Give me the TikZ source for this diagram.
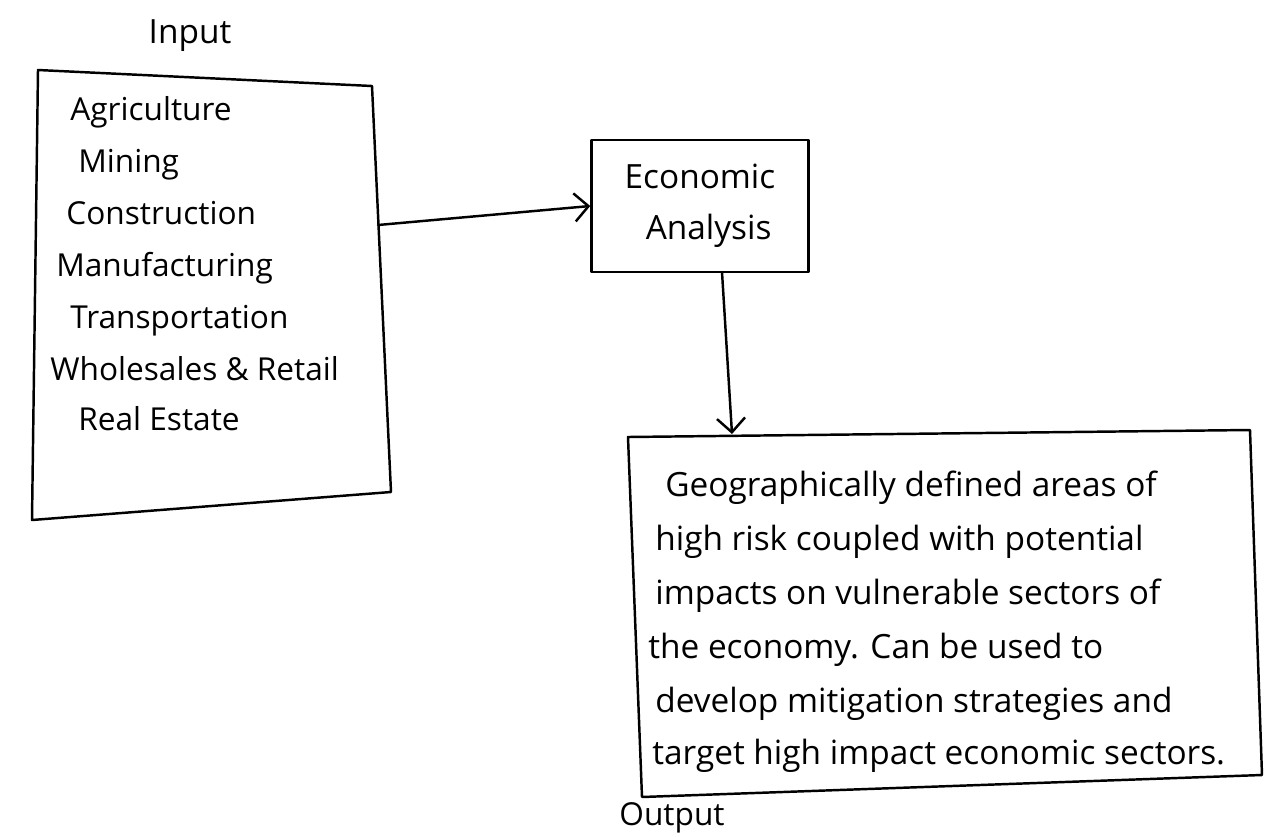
\documentclass[tikz,border=0pt]{standalone}
\usepackage{fontspec}
\setmainfont{Open Sans}
\usetikzlibrary{arrows.meta}
\begin{document}
\begin{tikzpicture}[x=0.02cm,y=-0.02cm,
  pen/.style={line width=1.4pt,line join=round,line cap=round},
  flow/.style={pen,-{Straight Barb[length=8pt,width=16pt,line width=1.4pt]}},
  hand/.style={font=\fontsize{19}{23}\selectfont,inner sep=0pt},
  listitem/.style={hand,anchor=base west},
  sector/.style={listitem,font=\fontsize{18}{22}\selectfont}]
\useasboundingbox (0,0) rectangle (1269,836);

% caption over the input box
\node[hand] (inlabel) at (190,36) {Input};

% input box (sectors)
\coordinate (i1) at (38,70);
\coordinate (i2) at (372,86);
\coordinate (i3) at (391,492);
\coordinate (i4) at (32,520);
\draw[pen] (i1) -- (i2) -- (i3) -- (i4) -- cycle;
\node[sector] (s1) at (70,120) {Agriculture};
\node[sector] (s2) at (78,172) {Mining};
\node[sector] (s3) at (66,224) {Construction};
\node[sector] (s4) at (56,276) {Manufacturing};
\node[sector] (s5) at (70,328) {Transportation};
\node[sector] (s6) at (50,380) {Wholesales \& Retail};
\node[sector] (s7) at (78,430) {Real Estate};

% analysis box
\node[pen,draw,minimum width=217*0.02cm,minimum height=132*0.02cm,
      hand,align=left] (econ) at (700,206)
  {Economic\\[6pt]\hspace*{12pt}Analysis};

% output box
\coordinate (o1) at (628,437);
\coordinate (o2) at (1250,430);
\coordinate (o3) at (1262,775);
\coordinate (o4) at (642,797);
\draw[pen] (o1) -- (o2) -- (o3) -- (o4) -- cycle;
\node[listitem] (t1) at (665,496) {Geographically defined areas of};
\node[listitem] (t2) at (655,550) {high risk coupled with potential};
\node[listitem] (t3) at (655,604) {impacts on vulnerable sectors of};
\node[listitem] (t4) at (648,658) {the economy. Can be used to};
\node[listitem] (t5) at (655,712) {develop mitigation strategies and};
\node[listitem] (t6) at (652,764) {target high impact economic sectors.};

% caption under the output box
\node[hand,font=\fontsize{18}{22}\selectfont] (outlabel) at (672,818) {Output};

% connectors
\coordinate (inR) at (378,225);
\coordinate (econB) at (722,272);
\coordinate (outT) at (732,434);
\draw[flow] (inR) -- (econ.west);
\draw[flow] (econB) -- (outT);
\end{tikzpicture}
\end{document}
